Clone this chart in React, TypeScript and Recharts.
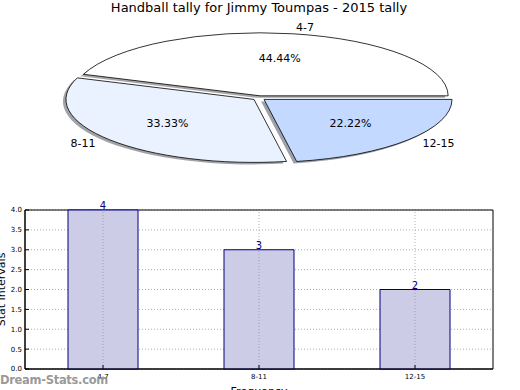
import React from 'react';
import {
  PieChart, Pie, BarChart, Bar, XAxis, YAxis, CartesianGrid, LabelList, ReferenceArea, ReferenceLine, Label,
} from 'recharts';

const categories = ['4-7', '8-11', '12-15'];
const counts = [4, 3, 2];
const pieColors = ['#ffffff', '#eaf1ff', '#c4d9ff'];
const yTicks = [0, 0.5, 1, 1.5, 2, 2.5, 3, 3.5, 4];
const title = 'Handball tally for Jimmy Toumpas - 2015 tally';

const pieData = categories.map((name, i) => ({ name, value: counts[i], fill: pieColors[i] }));
const barData = categories.map((name, i) => ({ name, value: counts[i] }));
const total = counts.reduce((a, b) => a + b, 0);

const FONT = '"DejaVu Sans", sans-serif';
const Y_RATIO = 63 / 188;
const EXPLODE = 0.035;
const RAD = Math.PI / 180;

function ellPath(cx: number, cy: number, rx: number, ry: number, a0: number, a1: number) {
  const x0 = cx + rx * Math.cos(a0 * RAD);
  const y0 = cy - ry * Math.sin(a0 * RAD);
  const x1 = cx + rx * Math.cos(a1 * RAD);
  const y1 = cy - ry * Math.sin(a1 * RAD);
  const large = Math.abs(a1 - a0) > 180 ? 1 : 0;
  const sweep = a1 > a0 ? 0 : 1;
  return `M${cx},${cy} L${x0},${y0} A${rx},${ry} 0 ${large} ${sweep} ${x1},${y1} Z`;
}

function explodedCenter(cx: number, cy: number, rx: number, ry: number, mid: number) {
  return {
    x: cx + EXPLODE * rx * Math.cos(mid * RAD),
    y: cy - EXPLODE * ry * Math.sin(mid * RAD),
  };
}

function shade(hex: string) {
  const n = parseInt(hex.slice(1), 16);
  const r = Math.round(((n >> 16) & 255) * 0.3);
  const g = Math.round(((n >> 8) & 255) * 0.3);
  const b = Math.round((n & 255) * 0.3);
  return `rgb(${r},${g},${b})`;
}

const EllipseSector = (props: any) => {
  const { cx, cy, outerRadius, startAngle, endAngle, fill } = props;
  const rx = outerRadius;
  const ry = outerRadius * Y_RATIO;
  const mid = (startAngle + endAngle) / 2;
  const c = explodedCenter(cx, cy, rx, ry, mid);
  const d = ellPath(c.x, c.y, rx, ry, startAngle, endAngle);
  const ds = ellPath(c.x - 3, c.y + 2, rx, ry, startAngle, endAngle);
  return (
    <g>
      <path d={ds} fill={shade(fill)} fillOpacity={0.5} stroke="none" />
      <path d={d} fill={fill} stroke="#000" strokeWidth={0.8} strokeLinejoin="miter" />
    </g>
  );
};

const PieLabel = (props: any) => {
  const { cx, cy, outerRadius, midAngle, value, name } = props;
  const rx = outerRadius;
  const ry = outerRadius * Y_RATIO;
  const c = explodedCenter(cx, cy, rx, ry, midAngle);
  const cos = Math.cos(midAngle * RAD);
  const sin = Math.sin(midAngle * RAD);
  const px = c.x + 0.6 * rx * cos;
  const py = c.y - 0.6 * ry * sin;
  const lx = c.x + 1.1 * rx * cos;
  const ly = c.y - 1.1 * ry * sin;
  const pct = ((value / total) * 100).toFixed(2) + '%';
  return (
    <g fontFamily={FONT} fontSize={11} fill="#000">
      <text x={px} y={py} textAnchor="middle" dominantBaseline="central">{pct}</text>
      <text x={lx} y={ly} textAnchor={cos >= 0 ? 'start' : 'end'} dominantBaseline="central">{name}</text>
    </g>
  );
};

export default function App() {
  return (
    <div style={{ position: 'absolute', left: 0, top: 0, width: 520, height: 390, background: '#fff', overflow: 'hidden' }}>
      <div style={{ position: 'absolute', left: 0, top: 0, width: 518, textAlign: 'center', fontFamily: FONT, fontSize: 13, color: '#000' }}>
        {title}
      </div>
      <div style={{ position: 'absolute', left: 0, top: 0 }}>
        <PieChart width={520} height={185} margin={{ top: 0, right: 0, bottom: 0, left: 0 }}>
          <Pie
            data={pieData}
            dataKey="value"
            nameKey="name"
            cx={259}
            cy={98}
            outerRadius={188}
            startAngle={0}
            endAngle={360}
            isAnimationActive={false}
            shape={EllipseSector}
            label={PieLabel}
            labelLine={false}
          />
        </PieChart>
      </div>
      <div style={{ position: 'absolute', left: 0, top: 195 }}>
        <BarChart width={520} height={195} data={barData} margin={{ top: 15, right: 27, bottom: 0, left: 0 }} barSize={70}>
          <CartesianGrid stroke="#999" strokeDasharray="1 2" strokeWidth={0.8} vertical={false} />
          <XAxis
            dataKey="name"
            height={21}
            tick={{ fontSize: 7, fontFamily: FONT, fill: '#000' }}
            tickSize={-4}
            tickMargin={9}
            tickLine={{ stroke: '#000' }}
            axisLine={{ stroke: '#000' }}
          >
            <Label value="Frequency" position="insideBottom" offset={-5} style={{ fontFamily: FONT, fontSize: 11, fill: '#000' }} />
          </XAxis>
          <YAxis
            width={25}
            domain={[0, 4]}
            ticks={yTicks}
            tickFormatter={(v: number) => v.toFixed(1)}
            tick={{ fontSize: 7, fontFamily: FONT, fill: '#000' }}
            tickSize={-4}
            tickMargin={7}
            tickLine={{ stroke: '#000' }}
            axisLine={{ stroke: '#000' }}
            interval={0}
          >
            <Label
              content={(p: any) => {
                const vb = p.viewBox;
                return (
                  <text
                    transform={`translate(${vb.x + 1},${vb.y + vb.height / 2}) rotate(-90)`}
                    textAnchor="middle"
                    dominantBaseline="central"
                    fontFamily={FONT}
                    fontSize={11}
                    fill="#000"
                  >
                    Stat Intervals
                  </text>
                );
              }}
            />
          </YAxis>
          <Bar dataKey="value" fill="#ccccE6" stroke="#000080" strokeWidth={1} isAnimationActive={false}>
            <LabelList dataKey="value" position="top" offset={1} style={{ fontFamily: FONT, fontSize: 10, fill: '#000080' }} />
          </Bar>
          {categories.map((c) => (
            <ReferenceLine key={c} x={c} stroke="#999" strokeDasharray="1 2" strokeWidth={0.8} />
          ))}
          <ReferenceArea y1={0} y2={4} fill="none" stroke="#000" strokeWidth={1} ifOverflow="visible" />
        </BarChart>
      </div>
      <div style={{ position: 'absolute', left: 0, top: 373, fontFamily: FONT, fontSize: 11.5, fontWeight: 600, color: 'rgba(140,140,140,0.9)', letterSpacing: -0.3 }}>
        Dream-Stats.com
      </div>
    </div>
  );
}
